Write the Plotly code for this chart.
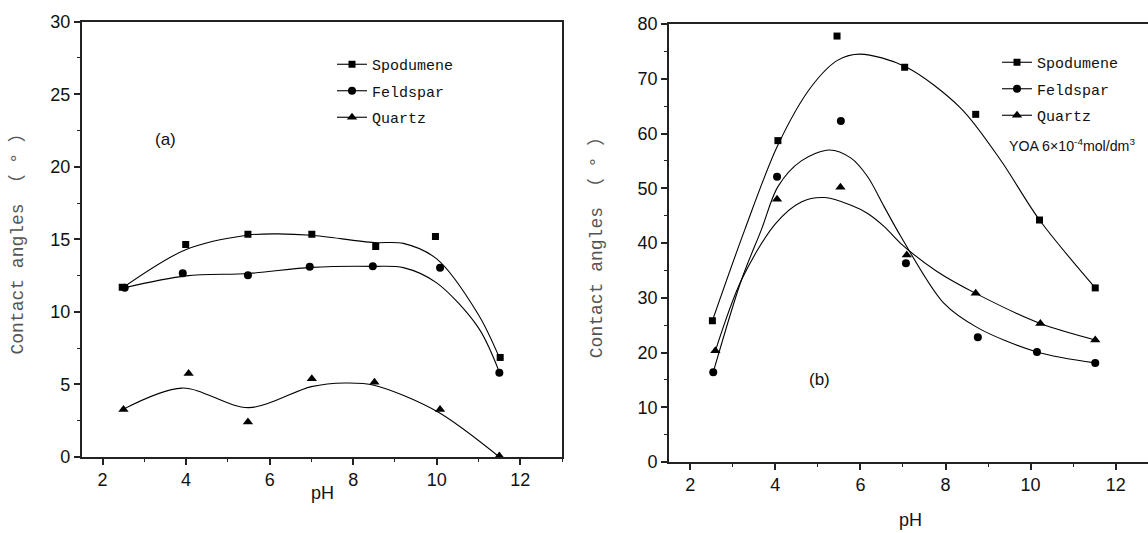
import plotly.graph_objects as go

# ---------------- data (a) : no collector ----------------
ph_a_spod = [2.47, 3.99, 5.48, 7.01, 8.54, 9.97, 11.52]
ang_a_spod = [11.7, 14.64, 15.35, 15.35, 14.5, 15.2, 6.86]
ph_a_feld = [2.53, 3.92, 5.48, 6.96, 8.47, 10.08, 11.5]
ang_a_feld = [11.66, 12.67, 12.53, 13.11, 13.14, 13.04, 5.81]
ph_a_qtz = [2.5, 4.06, 5.48, 7.01, 8.51, 10.08, 11.5]
ang_a_qtz = [3.28, 5.76, 2.41, 5.39, 5.15, 3.28, 0.07]

# fitted curves (a)
fit_a_spod_x = [2.5, 4.0, 5.5, 6.2, 7.0, 8.5, 9.2, 10.0, 11.0, 11.5]
fit_a_spod_y = [11.7, 14.3, 15.3, 15.38, 15.28, 14.78, 14.72, 13.65, 9.8, 6.85]
fit_a_feld_x = [2.5, 4.0, 5.5, 7.0, 8.5, 9.2, 10.0, 11.0, 11.5]
fit_a_feld_y = [11.65, 12.48, 12.65, 13.07, 13.14, 13.05, 12.0, 8.9, 5.85]
fit_a_qtz_x = [2.5, 3.9, 5.5, 7.0, 7.8, 8.5, 10.0, 11.5]
fit_a_qtz_y = [3.3, 4.75, 3.4, 4.85, 5.1, 4.95, 3.15, 0.0]

# ---------------- data (b) : YOA 6e-4 mol/dm3 ----------------
ph_b_spod = [2.52, 4.06, 5.45, 7.04, 8.71, 10.21, 11.52]
ang_b_spod = [25.8, 58.7, 77.8, 72.1, 63.5, 44.2, 31.8]
ph_b_feld = [2.54, 4.04, 5.54, 7.07, 8.76, 10.15, 11.52]
ang_b_feld = [16.4, 52.1, 62.3, 36.3, 22.8, 20.1, 18.1]
ph_b_qtz = [2.59, 4.04, 5.53, 7.09, 8.71, 10.23, 11.52]
ang_b_qtz = [20.3, 48.0, 50.2, 37.8, 30.8, 25.3, 22.3]

fit_b_spod_x = [2.52, 3.28, 4.06, 4.84, 5.47, 5.99, 7.06, 8.35, 9.29, 10.21, 11.52]
fit_b_spod_y = [25.8, 42.4, 57.9, 68.5, 73.4, 74.5, 72.2, 64.7, 55.2, 44.2, 31.8]
fit_b_feld_x = [2.54, 3.2, 3.67, 4.06, 4.61, 5.27, 5.78, 6.17, 6.56, 6.95, 7.96, 8.76, 10.15, 11.52]
fit_b_feld_y = [16.4, 33.2, 42.4, 50.3, 55.0, 57.0, 55.5, 52.1, 46.6, 41.2, 29.0, 24.5, 20.1, 18.1]
fit_b_qtz_x = [2.59, 3.2, 4.0, 4.61, 5.15, 5.78, 6.17, 6.56, 6.95, 7.8, 8.71, 10.23, 11.52]
fit_b_qtz_y = [20.3, 33.2, 43.5, 47.5, 48.3, 46.9, 45.4, 43.0, 39.9, 34.8, 30.8, 25.3, 22.3]

names = ["Spodumene", "Feldspar", "Quartz"]
symbols = ["square", "circle", "triangle-up"]
msizes = [7, 8, 9]

fig = go.Figure()

panels = [
    ("x", "y", "legend",
     [(ph_a_spod, ang_a_spod), (ph_a_feld, ang_a_feld), (ph_a_qtz, ang_a_qtz)],
     [(fit_a_spod_x, fit_a_spod_y), (fit_a_feld_x, fit_a_feld_y), (fit_a_qtz_x, fit_a_qtz_y)]),
    ("x2", "y2", "legend2",
     [(ph_b_spod, ang_b_spod), (ph_b_feld, ang_b_feld), (ph_b_qtz, ang_b_qtz)],
     [(fit_b_spod_x, fit_b_spod_y), (fit_b_feld_x, fit_b_feld_y), (fit_b_qtz_x, fit_b_qtz_y)]),
]

for xa, ya, lg, pts, fits in panels:
    for i in range(3):
        fx, fy = fits[i]
        fig.add_trace(go.Scatter(x=fx, y=fy, mode="lines", xaxis=xa, yaxis=ya,
                                 line=dict(color="black", width=1.1, shape="spline", smoothing=0.9),
                                 showlegend=False, hoverinfo="skip"))
        px, py = pts[i]
        fig.add_trace(go.Scatter(x=px, y=py, mode="markers", xaxis=xa, yaxis=ya,
                                 marker=dict(symbol=symbols[i], size=msizes[i], color="black"),
                                 showlegend=False))
        # legend entry (line + marker sample)
        fig.add_trace(go.Scatter(x=[None], y=[None], mode="lines+markers", xaxis=xa, yaxis=ya,
                                 name=names[i], legend=lg, legendgroup=lg + names[i],
                                 line=dict(color="black", width=1.1),
                                 marker=dict(symbol=symbols[i], size=msizes[i], color="black")))

TICKFONT = dict(family="Liberation Sans, Arial", size=18, color="#111")
axis_common = dict(showline=True, linewidth=1.6, linecolor="#222", mirror=True,
                   showgrid=False, zeroline=False, ticks="outside", ticklen=6,
                   tickwidth=1.5, tickcolor="#222", automargin=False, tickfont=TICKFONT)
MINOR = dict(ticks="outside", tick0=0, ticklen=3, tickwidth=1.3, tickcolor="#222")
YTITLE_FONT = dict(family="Liberation Mono, Noto Sans CJK SC", size=18, color="#555")

W, H = 1148, 533
fig.update_layout(
    width=W, height=H, margin=dict(l=0, r=0, t=0, b=0),
    paper_bgcolor="white", plot_bgcolor="white", showlegend=True,
    xaxis=dict(axis_common, domain=[81.7 / W, 562 / W], range=[1.5, 13], dtick=2, tick0=0,
               minor=dict(MINOR, dtick=1)),
    yaxis=dict(axis_common, domain=[(H - 457) / H, (H - 21.7) / H], range=[0, 30], dtick=5, tick0=0,
               minor=dict(MINOR, dtick=2.5),
               title=dict(text="Contact angles （ ° ）", standoff=22, font=YTITLE_FONT)),
    xaxis2=dict(axis_common, domain=[669 / W, 1.0], range=[1.5, 12.76], dtick=2, tick0=0,
                anchor="y2", minor=dict(MINOR, dtick=1)),
    yaxis2=dict(axis_common, domain=[(H - 462) / H, (H - 24) / H], range=[0, 80], dtick=10, tick0=0,
                anchor="x2", minor=dict(MINOR, dtick=5),
                title=dict(text="Contact angles （ ° ）", standoff=30, font=YTITLE_FONT)),
    legend=dict(x=332 / W, y=(H - 48) / H, xanchor="left", yanchor="top",
                bgcolor="rgba(0,0,0,0)", borderwidth=0, tracegroupgap=4, traceorder="grouped",
                font=dict(family="Liberation Mono", size=15, color="#111")),
    legend2=dict(x=997 / W, y=(H - 46) / H, xanchor="left", yanchor="top",
                 bgcolor="rgba(0,0,0,0)", borderwidth=0, tracegroupgap=4, traceorder="grouped",
                 font=dict(family="Liberation Mono", size=15, color="#111")),
    annotations=[
        dict(text="pH", xref="paper", yref="paper", x=322 / W, y=(H - 493) / H,
             xanchor="center", yanchor="middle", showarrow=False,
             font=dict(family="Liberation Sans, Arial", size=18, color="#111")),
        dict(text="pH", xref="paper", yref="paper", x=910 / W, y=(H - 520) / H,
             xanchor="center", yanchor="middle", showarrow=False,
             font=dict(family="Liberation Sans, Arial", size=18, color="#111")),
        dict(text="(a)", xref="x", yref="y", x=3.5, y=21.9, showarrow=False,
             font=dict(family="Liberation Sans, Arial", size=17, color="#111")),
        dict(text="(b)", xref="x2", yref="y2", x=5.03, y=15.0, showarrow=False,
             font=dict(family="Liberation Sans, Arial", size=17, color="#111")),
        dict(text="YOA 6×10<sup>-4</sup>mol/dm<sup>3</sup>", xref="paper", yref="paper",
             x=1007 / W, y=(H - 145) / H, xanchor="left", yanchor="middle", showarrow=False,
             font=dict(family="Liberation Sans, Arial", size=14.2, color="#111")),
    ],
)

fig.write_html("out.html", post_script="document.body.style.margin='0';",
               config={"displayModeBar": False})
